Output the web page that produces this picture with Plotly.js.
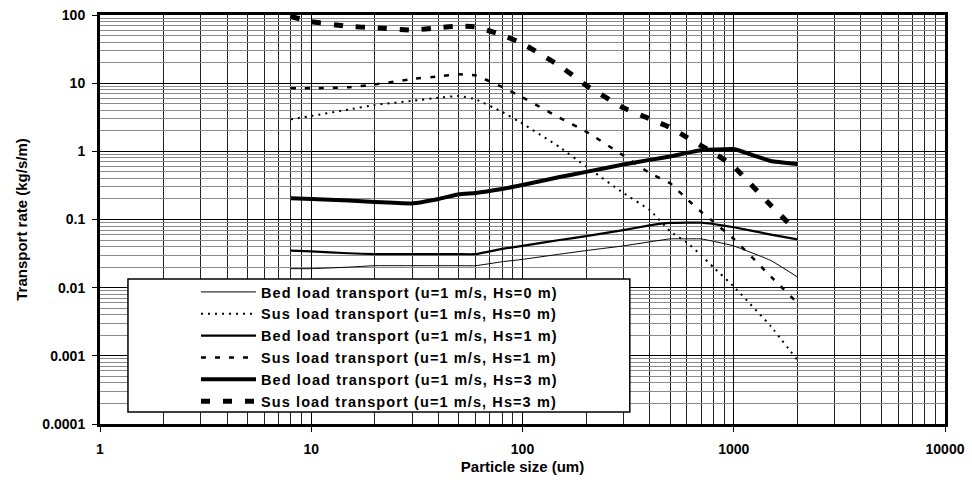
<!DOCTYPE html>
<html>
<head>
<meta charset="utf-8">
<script src="https://cdn.plot.ly/plotly-3.0.1.min.js"></script>
<style>html,body{margin:0;padding:0;background:#fff;}#chart{width:972px;height:489px;}</style>
</head>
<body>
<div id="chart"></div>
<script>
// Particle sizes (um)
const sizes = [8, 10, 15, 20, 30, 40, 50, 60, 80, 100, 150, 200, 300, 400, 500, 600, 700, 800, 1000, 1500, 2000];

// Transport rates (kg/s/m)
const bedHs0 = [0.019, 0.019, 0.020, 0.021, 0.021, 0.021, 0.021, 0.021, 0.024, 0.026, 0.031, 0.035, 0.041, 0.047, 0.052, 0.052, 0.052, 0.048, 0.041, 0.025, 0.0144];
const susHs0 = [2.95, 3.3, 4.1, 4.8, 5.5, 6.1, 6.5, 5.8, 3.8, 2.55, 1.15, 0.6, 0.245, 0.138, 0.067, 0.046, 0.03, 0.02, 0.0104, 0.0027, 0.00087];
const bedHs1 = [0.035, 0.034, 0.032, 0.031, 0.031, 0.031, 0.031, 0.031, 0.037, 0.041, 0.05, 0.057, 0.07, 0.082, 0.089, 0.09, 0.09, 0.086, 0.077, 0.06, 0.051];
const susHs1 = [8.4, 8.4, 8.7, 9.6, 11.5, 12.6, 13.5, 13.0, 8.8, 6.2, 3.1, 1.95, 0.87, 0.48, 0.34, 0.2, 0.13, 0.093, 0.052, 0.0145, 0.006];
const bedHs3 = [0.205, 0.2, 0.19, 0.18, 0.172, 0.2, 0.235, 0.245, 0.28, 0.32, 0.42, 0.5, 0.64, 0.75, 0.84, 0.95, 1.04, 1.06, 1.08, 0.72, 0.65];
const susHs3 = [95, 80, 68, 65, 60, 65, 69, 67, 51, 38, 18, 9.3, 4.35, 3.0, 2.25, 1.6, 1.21, 0.96, 0.6, 0.16, 0.066];

const seriesNames = [
  'Bed load transport (u=1 m/s, Hs=0 m)',
  'Sus load transport (u=1 m/s, Hs=0 m)',
  'Bed load transport (u=1 m/s, Hs=1 m)',
  'Sus load transport (u=1 m/s, Hs=1 m)',
  'Bed load transport (u=1 m/s, Hs=3 m)',
  'Sus load transport (u=1 m/s, Hs=3 m)'
];

const xTickVals = [1, 10, 100, 1000, 10000];
const xTickText = ['1', '10', '100', '1000', '10000'];
const yTickVals = [0.0001, 0.001, 0.01, 0.1, 1, 10, 100];
const yTickText = ['0.0001', '0.001', '0.01', '0.1', '1', '10', '100'];

const FONT = 'Liberation Sans, Arial, Helvetica, sans-serif';

const styles = [
  {width: 1, dash: 'solid'},
  {width: 2, dash: '2px,5px'},
  {width: 2.2, dash: 'solid'},
  {width: 2.5, dash: '5px,9px'},
  {width: 4, dash: 'solid'},
  {width: 5, dash: '9px,13px'}
];
const values = [bedHs0, susHs0, bedHs1, susHs1, bedHs3, susHs3];

const traces = values.map((v, i) => ({
  x: sizes,
  y: v,
  type: 'scatter',
  mode: 'lines',
  name: '<span style="letter-spacing:1.1px">' + seriesNames[i] + '</span>',
  line: {color: '#000', width: styles[i].width, dash: styles[i].dash, shape: 'spline', smoothing: 0.3}
}));

const axisCommon = {
  type: 'log',
  showline: true,
  linecolor: '#000',
  linewidth: 3,
  mirror: true,
  zeroline: false,
  ticks: 'outside',
  ticklen: 5,
  tickwidth: 1,
  tickcolor: '#000',
  showgrid: true,
  gridcolor: '#000',
  gridwidth: 1,
  tickfont: {family: FONT, size: 14, color: '#000', weight: 'bold'}
};

const layout = {
  width: 972,
  height: 489,
  margin: {l: 100, r: 27, t: 15, b: 65},
  paper_bgcolor: '#fff',
  plot_bgcolor: '#fff',
  showlegend: true,
  xaxis: Object.assign({}, axisCommon, {
    range: [0, 4],
    tickmode: 'array',
    tickvals: xTickVals,
    ticktext: xTickText,
    ticklabelstandoff: 5,
    minor: {dtick: 'D1', showgrid: true, gridcolor: '#222', gridwidth: 1, ticks: ''},
    title: {text: 'Particle size (um)', font: {family: FONT, size: 15, color: '#000', weight: 'bold'}, standoff: 6}
  }),
  yaxis: Object.assign({}, axisCommon, {
    range: [-4, 2],
    tickmode: 'array',
    tickvals: yTickVals,
    ticktext: yTickText,
    ticklabelstandoff: 4,
    minor: {dtick: 'D1', showgrid: true, gridcolor: '#8a8a8a', gridwidth: 1, ticks: ''},
    title: {text: 'Transport rate (kg/s/m)', font: {family: FONT, size: 15, color: '#000', weight: 'bold'}, standoff: 12}
  }),
  legend: {
    x: 0.1136, xanchor: 'left',
    y: 0.3619, yanchor: 'top',
    bgcolor: 'rgba(0,0,0,0)',
    borderwidth: 0,
    itemwidth: 55,
    font: {family: FONT, size: 14.5, color: '#000', weight: 'bold'}
  },
  shapes: [{
    type: 'rect', xref: 'paper', yref: 'paper',
    x0: 0.0331, x1: 0.627, y0: 0.0293, y1: 0.3545,
    fillcolor: '#fff', line: {color: '#000', width: 1.5}, layer: 'above'
  }]
};

Plotly.newPlot('chart', traces, layout, {staticPlot: true, displayModeBar: false});
</script>
</body>
</html>
